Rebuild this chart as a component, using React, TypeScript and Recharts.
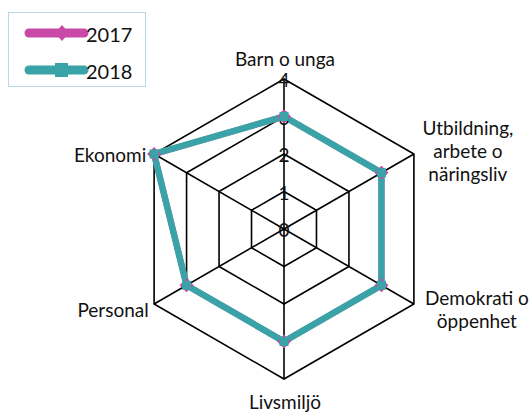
import React from 'react';
import { RadarChart, Radar, PolarGrid, PolarAngleAxis, PolarRadiusAxis, Legend } from 'recharts';

const categories = ['Barn o unga', 'Utbildning, arbete o näringsliv', 'Demokrati o öppenhet', 'Livsmiljö', 'Personal', 'Ekonomi'];
const values2017 = [3, 3, 3, 3, 3, 4];
const values2018 = [3, 3, 3, 3, 3, 4];
const radiusTicks = [0, 1, 2, 3, 4];

const data = categories.map((c, i) => ({ name: c, y2017: values2017[i], y2018: values2018[i] }));

const PINK = '#c94aa6';
const TEAL = '#3aa3a7';
const FONT = 'Lato, "Open Sans", sans-serif';

// label lines and offsets from the axis tip
const labelLayout: Record<string, { lines: string[]; dx: number; dy: number }> = {
  'Barn o unga': { lines: ['Barn o unga'], dx: 1, dy: -21 },
  'Utbildning, arbete o näringsliv': { lines: ['Utbildning,', 'arbete o', 'näringsliv'], dx: 54, dy: -4 },
  'Demokrati o öppenhet': { lines: ['Demokrati o', 'öppenhet'], dx: 63, dy: 5 },
  'Livsmiljö': { lines: ['Livsmiljö'], dx: 1, dy: 22 },
  'Personal': { lines: ['Personal'], dx: -41, dy: 5 },
  'Ekonomi': { lines: ['Ekonomi'], dx: -44, dy: 0 },
};

const AngleTick = (props: any) => {
  const { payload, x, y, cx, cy } = props;
  const l = labelLayout[payload.value];
  // tip position at outer radius
  const ang = Math.atan2(y - cy, x - cx);
  const tx = cx + 150 * Math.cos(ang);
  const ty = cy + 150 * Math.sin(ang);
  const lh = 23;
  const start = ty + l.dy - ((l.lines.length - 1) * lh) / 2;
  return (
    <text x={tx + l.dx} y={start} textAnchor="middle" fontFamily={FONT} fontSize={19} fill="#111">
      {l.lines.map((s, i) => (
        <tspan key={i} x={tx + l.dx} y={start + i * lh} dominantBaseline="central">{s}</tspan>
      ))}
    </text>
  );
};

const Diamond = (props: any) => {
  const { cx, cy } = props;
  const r = 7;
  return <path d={`M${cx},${cy - r}L${cx + r},${cy}L${cx},${cy + r}L${cx - r},${cy}Z`} fill={PINK} />;
};

const Square = (props: any) => {
  const { cx, cy } = props;
  const r = 4.5;
  return <rect x={cx - r} y={cy - r} width={r * 2} height={r * 2} fill={TEAL} />;
};

const LegendBox = () => (
  <div style={{ width: 138, height: 75, border: '1px solid #b9d7ea', background: '#fff', boxSizing: 'border-box' }}>
    <svg width={136} height={73}>
      {[{ label: '2017', color: PINK, y: 20, mark: 'd' }, { label: '2018', color: TEAL, y: 57, mark: 's' }].map((it) => (
        <g key={it.label}>
          <line x1={20} x2={75} y1={it.y} y2={it.y} stroke={it.color} strokeWidth={9} strokeLinecap="round" />
          {it.mark === 'd' ? (
            <path d={`M53,${it.y - 8}L60,${it.y}L53,${it.y + 8}L46,${it.y}Z`} fill={it.color} />
          ) : (
            <rect x={46} y={it.y - 7} width={13} height={14} fill={it.color} />
          )}
          <text x={77} y={it.y + 1} dominantBaseline="central" fontFamily={FONT} fontSize={20} fill="#111">{it.label}</text>
        </g>
      ))}
    </svg>
  </div>
);

export default function App() {
  return (
    <div style={{ position: 'fixed', left: 0, top: 0, width: 532, height: 412, background: '#fff' }}>
      <RadarChart width={532} height={412} data={data} cx={284} cy={229} outerRadius={150} startAngle={90} endAngle={-270}>
        <PolarGrid gridType="polygon" stroke="#000" strokeWidth={1.6} strokeOpacity={1} />
        <PolarAngleAxis dataKey="name" tick={<AngleTick />} tickLine={false} axisLine={false} />
        <PolarRadiusAxis
          angle={90}
          domain={[0, 4]}
          ticks={radiusTicks as any}
          tickCount={5}
          axisLine={false}
          orientation="middle"
          tick={{ fontSize: 19, fill: '#111', fontFamily: FONT, dominantBaseline: 'central' } as any}
        />
        <Radar name="2017" dataKey="y2017" stroke={PINK} strokeWidth={6} fill="none" fillOpacity={0} dot={<Diamond />} isAnimationActive={false} />
        <Radar name="2018" dataKey="y2018" stroke={TEAL} strokeWidth={6.5} fill="none" fillOpacity={0} dot={<Square />} isAnimationActive={false} />
        <Legend content={<LegendBox />} wrapperStyle={{ position: 'absolute', left: 8, top: 12, width: 138 }} />
      </RadarChart>
    </div>
  );
}
